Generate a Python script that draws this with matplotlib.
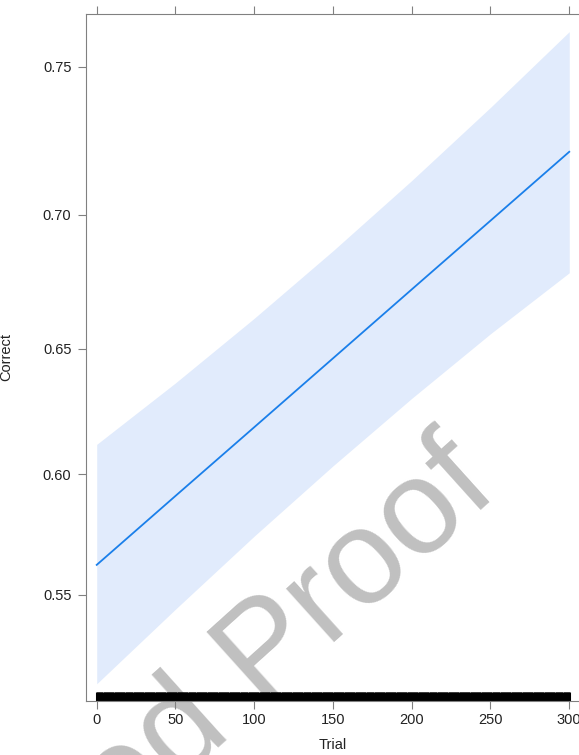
import matplotlib
matplotlib.use("Agg")
import matplotlib.pyplot as plt
from matplotlib.ticker import FixedLocator, FormatStrFormatter, NullLocator, NullFormatter

plt.rcParams["font.family"] = ["Liberation Sans", "DejaVu Sans"]

# effect of Trial on P(Correct) (logit-scaled y axis)
trial = [0, 50, 100, 150, 200, 250, 300]
fit = [0.5626, 0.5912, 0.6191, 0.6463, 0.6726, 0.6978, 0.7219]
lower = [0.5124, 0.5440, 0.5746, 0.6035, 0.6306, 0.6558, 0.6788]
upper = [0.6122, 0.6367, 0.6617, 0.6869, 0.7120, 0.7368, 0.7610]

# observed trial values shown as the rug
rug_trials = list(range(0, 301))

x_ticks = [0, 50, 100, 150, 200, 250, 300]
y_ticks = [0.55, 0.60, 0.65, 0.70, 0.75]

FRAME = "#808080"
LINE = "#1a7fea"
BAND = "#e1ebfc"

fig = plt.figure(figsize=(5.79, 7.55), dpi=100)

# watermark behind the panel
fig.text(0.864, 0.348, "Uncorrected Proof", fontsize=97, color="#c0c0c0",
         rotation=42, rotation_mode="anchor", ha="right", va="baseline",
         zorder=-1)

ax = fig.add_axes([0.148, 0.0719, 0.8542, 0.9095])
ax.patch.set_alpha(0)

ax.fill_between(trial, lower, upper, color=BAND, linewidth=0)
ax.plot(trial, fit, color=LINE, linewidth=1.3)
ax.vlines(rug_trials, 0, 0.013, transform=ax.get_xaxis_transform(),
          color="black", linewidth=2.2)

ax.set_yscale("logit")
ax.set_xlim(-7, 307)
ax.set_ylim(0.5052, 0.7664)

ax.xaxis.set_major_locator(FixedLocator(x_ticks))
ax.yaxis.set_major_locator(FixedLocator(y_ticks))
ax.yaxis.set_major_formatter(FormatStrFormatter("%.2f"))
ax.yaxis.set_minor_locator(NullLocator())
ax.yaxis.set_minor_formatter(NullFormatter())

for side in ax.spines.values():
    side.set_color(FRAME)
    side.set_linewidth(0.8)

ax.tick_params(axis="both", direction="out", length=5.5, width=0.8,
               color=FRAME, labelsize=10.5, labelcolor="#222222")
ax.tick_params(axis="x", top=True, labeltop=False, pad=3.5)
ax.tick_params(axis="y", right=False, pad=4.8)

ax.set_xlabel("Trial", fontsize=10.5, color="#222222")
ax.set_ylabel("Correct", fontsize=10.5, color="#222222")
ax.xaxis.set_label_coords(0.5, -0.0539)
ax.yaxis.set_label_coords(-0.146, 0.5)

fig.savefig("out.png", dpi=100)
